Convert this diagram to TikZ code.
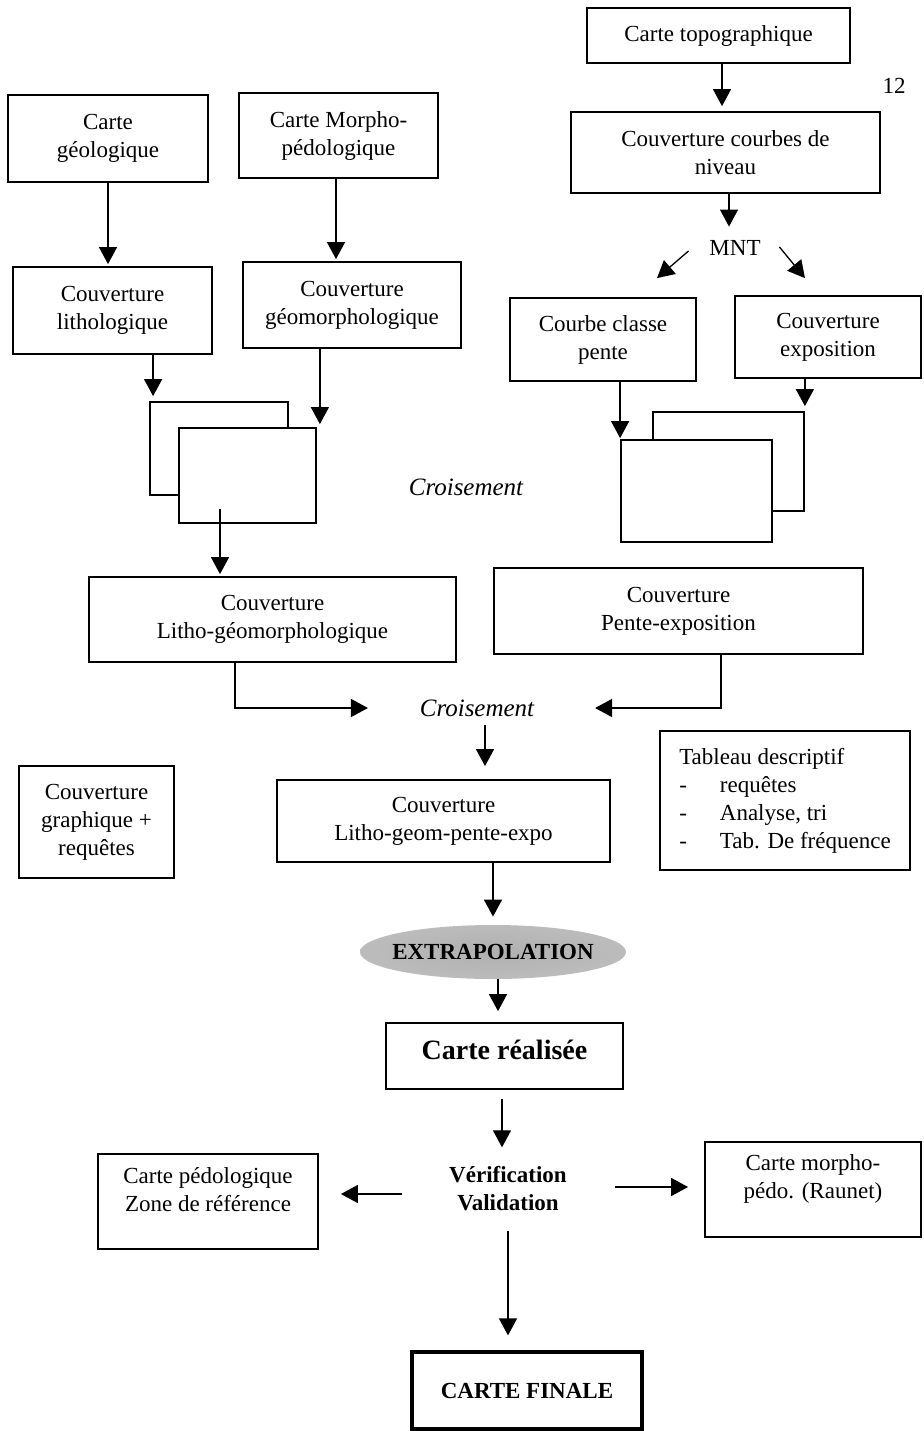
\documentclass[tikz,border=0pt]{standalone}
\usepackage{fontspec}
\setmainfont{Liberation Serif}
\usetikzlibrary{arrows.meta,shapes.geometric}
\pgfdeclareradialshading{blob}{\pgfpoint{0bp}{0bp}}{color(0bp)=(gray!62); color(32bp)=(gray!50); color(46bp)=(gray!22); color(50bp)=(white)}
\tikzset{
  box/.style={draw, line width=0.9pt, align=center, inner sep=0pt},
  sz/.style 2 args={minimum width=#1*0.5pt, minimum height=#2*0.5pt},
  sheet/.style={draw, line width=0.9pt, fill=white},
  word/.style={inner sep=2pt, align=center},
  boldtext/.style={font=\fontsize{11.5}{14}\selectfont\bfseries},
  itext/.style={font=\fontsize{12.5}{14}\selectfont\itshape},
  arr/.style={line width=0.65pt, -{Triangle[length=8.5pt,width=9pt]}}
}

\begin{document}
\begin{tikzpicture}[x=0.5pt,y=-0.5pt,font=\fontsize{11.5}{14}\selectfont]
\useasboundingbox (0,0) rectangle (924,1431);

\node[box, sz={263}{55}] (topo) at (718.5,35.5) {Carte topographique};
\node[word] (page) at (894,86) {12};
\node[box, sz={309}{81}] (courbes) at (725.5,152.5) {Couverture courbes de\\niveau};
\node[word] (mnt) at (735,248) {MNT};
\node[box, sz={200}{87}] (geol) at (108,138.5) {Carte\\géologique};
\node[box, sz={199}{85}] (morpho) at (338.5,135.5) {Carte Morpho-\\pédologique};
\node[box, sz={199}{87}] (litho) at (112.5,310.5) {Couverture\\lithologique};
\node[box, sz={218}{86}] (geomorph) at (352,305) {Couverture\\géomorphologique};
\node[box, sz={186}{83}] (pente) at (603,339.5) {Courbe classe\\pente};
\node[box, sz={186}{82}] (expo) at (828,337) {Couverture\\exposition};

\node[sheet, sz={138}{93}] (litback) at (219,448.5) {};
\node[sheet, sz={137}{95}] (litfront) at (247.5,475.5) {};
\node[sheet, sz={151}{99}] (penteback) at (728.5,461.5) {};
\node[sheet, sz={151}{102}] (pentefront) at (696.5,491) {};
\node[word, itext] (crois1) at (466,487) {Croisement};

\node[box, sz={367}{85}] (lithogeo) at (272.5,619.5) {Couverture\\Litho-géomorphologique};
\node[box, sz={369}{86}] (penteexpo) at (678.5,611) {Couverture\\Pente-exposition};
\node[word, itext] (crois2) at (477,708) {Croisement};

\node[box, sz={155}{112}] (graph) at (96.5,822) {Couverture\\graphique +\\requêtes};
\node[box, sz={333}{82}] (lgpe) at (443.5,821) {Couverture\\Litho-geom-pente-expo};
\node[box, sz={250}{139}] (tableau) at (785,800.5) {\begin{tabular}{@{}l@{\hspace{16.5pt}}l@{}}
  \multicolumn{2}{@{}l}{Tableau descriptif}\\
  - & requêtes\\
  - & Analyse, tri\\
  - & Tab. De fréquence
\end{tabular}};

\node[ellipse, shading=blob, inner xsep=-3.7pt, inner ysep=0pt,
  sz={266}{54}, boldtext] (extra) at (493,952) {EXTRAPOLATION};
\node[box, sz={237}{66}, text depth=6pt, font=\fontsize{14}{16}\selectfont\bfseries] (realisee) at (504.5,1056) {Carte réalisée};
\node[word, boldtext] (verif) at (508,1189) {Vérification\\Validation};
\node[box, sz={220}{95}, text depth=12.5pt] (pedo) at (208,1201.5) {Carte pédologique\\Zone de référence};
\node[box, sz={216}{95}, text depth=13pt] (morphoped) at (813,1189.5) {Carte morpho-\\pédo. (Raunet)};
\node[box, line width=1.6pt, sz={230}{77}, boldtext] (finale) at (527,1390.5) {CARTE FINALE};

\draw[arr, shorten >=2.5pt] ([xshift=1.75pt]topo.south) -- ([xshift=1.75pt]topo.south |- courbes.north);
\draw[arr, shorten >=4.75pt] ([xshift=1.75pt]courbes.south) -- ([xshift=1.75pt]courbes.south |- mnt.north);
\draw[arr] ([xshift=-8.25pt,yshift=-1.5pt]mnt.west) -- ([xshift=27pt,yshift=9.5pt]pente.north);
\draw[arr] ([xshift=7.25pt,yshift=0.5pt]mnt.east) -- ([xshift=-11.5pt,yshift=8.5pt]expo.north);
\draw[arr, shorten >=1pt] (geol.south) -- (geol.south |- litho.north);
\draw[arr, shorten >=1pt] ([xshift=-1.25pt]morpho.south) -- ([xshift=-1.25pt]morpho.south |- geomorph.north);
\draw[arr, shorten >=2.5pt] ([xshift=2pt]litback.north west |- litho.south) -- ([xshift=2pt]litback.north west);
\draw[arr, shorten >=1.5pt] ([xshift=1.5pt]litfront.north east |- geomorph.south) -- ([xshift=1.5pt]litfront.north east);
\draw[arr, shorten >=1pt] ([xshift=-13.75pt,yshift=7.5pt]litfront.south) -- ([xshift=-13.75pt]litfront.south |- lithogeo.north);
\draw[arr, shorten >=0.5pt] (pentefront.north west |- pente.south) -- (pentefront.north west);
\draw[arr, shorten >=2.5pt] (penteback.north east |- expo.south) -- (penteback.north east);

\draw[arr, shorten >=23.75pt] ([xshift=-18.75pt]lithogeo.south) |- (crois2.west);
\draw[arr, shorten >=28.25pt] ([xshift=21.25pt]penteexpo.south) |- (crois2.east);
\draw[arr, shorten <=2pt, shorten >=6.5pt] ([xshift=4pt]crois2.south) -- ([xshift=4pt]crois2.south |- lgpe.north);
\draw[arr, shorten >=4pt] (extra.north |- lgpe.south) -- (extra.north);
\draw[arr, shorten >=5.5pt] ([xshift=2.5pt]extra.south) -- ([xshift=2.5pt]extra.south |- realisee.north);
\draw[arr, shorten <=4.5pt, shorten >=7.5pt] ([xshift=-1.25pt]realisee.south) -- ([xshift=-1.25pt]realisee.south |- verif.north);
\draw[arr, shorten <=21.5pt, shorten >=11pt] ([yshift=-2.5pt]verif.west) -- ([yshift=-2.5pt]verif.west -| pedo.east);
\draw[arr, shorten <=22pt, shorten >=8pt] ([yshift=1pt]verif.east) -- ([yshift=1pt]verif.east -| morphoped.west);
\draw[arr, shorten <=7.5pt, shorten >=7.5pt] (verif.south) -- (verif.south |- finale.north);
\end{tikzpicture}
\end{document}
